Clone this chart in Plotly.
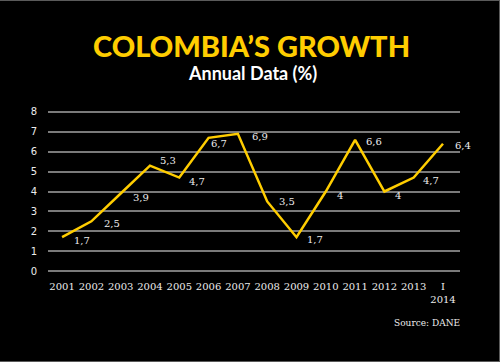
import plotly.graph_objects as go

years = ["2001", "2002", "2003", "2004", "2005", "2006", "2007",
         "2008", "2009", "2010", "2011", "2012", "2013", "2014"]
tick_labels = ["2001", "2002", "2003", "2004", "2005", "2006", "2007",
               "2008", "2009", "2010", "2011", "2012", "2013", "I<br>2014"]
growth = [1.7, 2.5, 3.9, 5.3, 4.7, 6.7, 6.9, 3.5, 1.7, 4.0, 6.6, 4.0, 4.7, 6.4]
value_labels = ["1,7", "2,5", "3,9", "5,3", "4,7", "6,7", "6,9",
                "3,5", "1,7", "4", "6,6", "4", "4,7", "6,4"]
y_ticks = [0, 1, 2, 3, 4, 5, 6, 7, 8]

YELLOW = "#FFCD00"
GRID = "#7a7a7a"
TICKFONT = dict(family="DejaVu Serif", size=10, color="#ececec")

# plot area geometry (pixels) used to place the outer frame
L, R, T, B, W, H = 48, 40, 110, 89, 500, 362
PW, PH = W - L - R, H - T - B

x_idx = list(range(len(years)))

fig = go.Figure()
fig.add_trace(go.Scatter(
    x=x_idx, y=growth, mode="lines",
    line=dict(color=YELLOW, width=2.5),
    hoverinfo="skip", showlegend=False,
))

# data labels offset to the lower right of each point
label_shift = [(20, -3), (21, -2), (20, -4), (18, 5), (18, -4), (10, -6), (22, -3),
               (20, 0), (19, -2), (14, -4), (19, -2), (14, -4), (17, -3), (20, -2)]
for xi, v, t, (dx, dy) in zip(x_idx, growth, value_labels, label_shift):
    fig.add_annotation(x=xi, y=v, text=t, showarrow=False,
                       xshift=dx, yshift=dy, font=TICKFONT)

fig.add_annotation(xref="paper", yref="paper", x=0.5, y=1.0, yshift=T - 45,
                   yanchor="middle", xshift=-3,
                   text="COLOMBIA’S GROWTH", showarrow=False,
                   font=dict(family="Lato", size=29, color=YELLOW, weight=900))
fig.add_annotation(xref="paper", yref="paper", x=0.5, y=1.0, yshift=T - 73,
                   yanchor="middle", xshift=-2,
                   text="Annual Data (%)", showarrow=False,
                   font=dict(family="Lato", size=18, color="white", weight=700))
fig.add_annotation(xref="paper", yref="paper", x=1.0, y=0.0, yshift=-50,
                   yanchor="middle", xanchor="right", xshift=2,
                   text="Source: DANE", showarrow=False,
                   font=dict(family="DejaVu Serif", size=9, color="#ececec"))

# thin grey frame on top, right and bottom edges of the picture
def px_x(p):
    return (p - L) / PW

def px_y(p):
    return (H - B - p) / PH

frame = dict(color="#5a5a5a", width=1)
fig.add_shape(type="line", xref="paper", yref="paper",
              x0=px_x(0), x1=px_x(W), y0=px_y(0.5), y1=px_y(0.5), line=frame)
fig.add_shape(type="line", xref="paper", yref="paper",
              x0=px_x(W - 0.5), x1=px_x(W - 0.5), y0=px_y(0), y1=px_y(H), line=frame)
fig.add_shape(type="line", xref="paper", yref="paper",
              x0=px_x(0), x1=px_x(W), y0=px_y(H - 0.5), y1=px_y(H - 0.5), line=frame)

fig.update_layout(
    width=W, height=H,
    paper_bgcolor="black", plot_bgcolor="black",
    margin=dict(l=L, r=R, t=T, b=B),
    xaxis=dict(range=[-0.48, 13.58], tickvals=x_idx, ticktext=tick_labels,
               showgrid=False, zeroline=False, showline=False,
               tickfont=TICKFONT, ticks="", ticklabelstandoff=6,
               fixedrange=True),
    yaxis=dict(range=[-0.1, 8.1], tickvals=y_ticks, showgrid=True,
               gridcolor=GRID, gridwidth=2, zeroline=False, showline=False,
               tickfont=dict(family="DejaVu Sans", size=10, color="#ececec"),
               ticks="", ticklabelstandoff=10, fixedrange=True),
)

fig.write_html("out.html", config={"displayModeBar": False},
               post_script="document.body.style.margin='0';")
